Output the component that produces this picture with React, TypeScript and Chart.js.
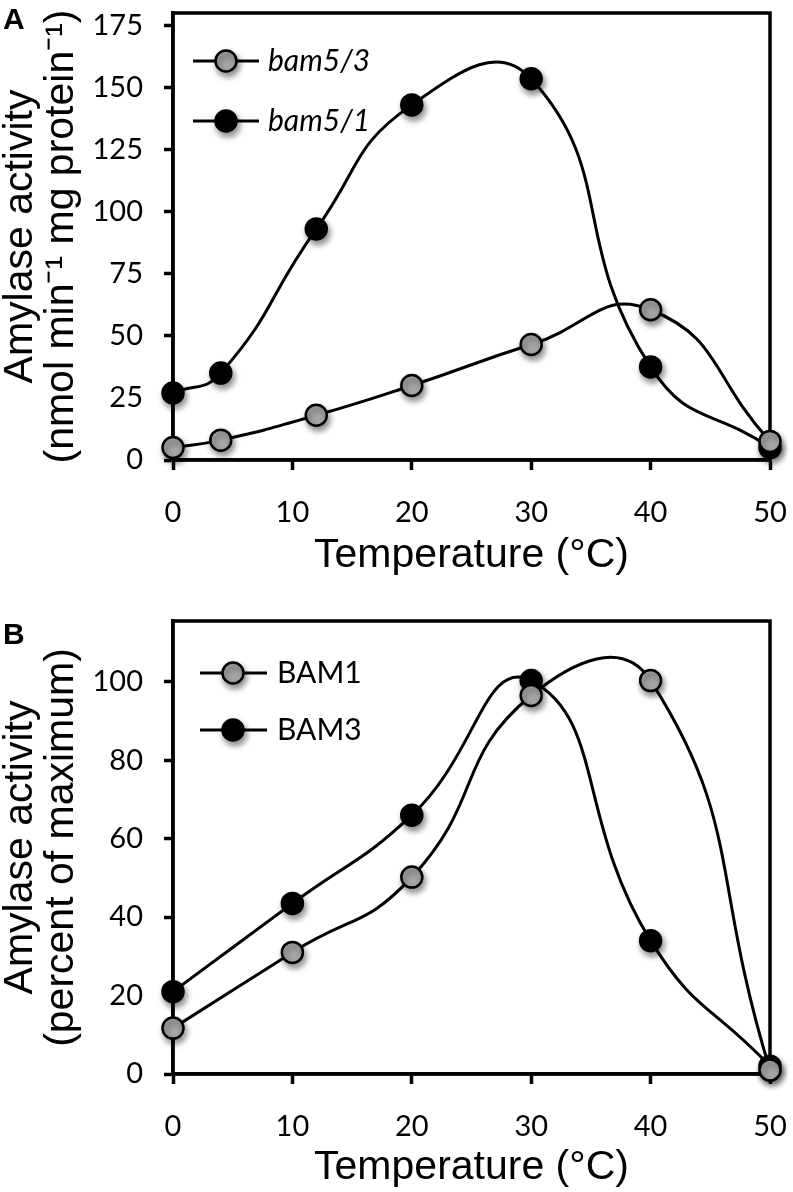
import React, { useEffect, useRef } from 'react';
import { Chart, registerables } from 'chart.js';
Chart.register(...registerables);

// ---------- data ----------
const tempA = [0, 4, 12, 20, 30, 40, 50];
const bam53 = [5, 8, 18, 30, 46.5, 60.5, 7.5];
const bam51 = [27, 35, 93, 143, 153.5, 37.5, 5];
const seriesNamesA = ['bam5/3', 'bam5/1'];

const tempB = [0, 10, 20, 30, 40, 50];
const bam1 = [11.7, 31, 50.2, 96.5, 100.3, 1];
const bam3 = [21, 43.5, 66, 100.3, 34, 2];
const seriesNamesB = ['BAM1', 'BAM3'];

const xTicks = [0, 10, 20, 30, 40, 50];
const yTicksA = [0, 25, 50, 75, 100, 125, 150, 175];
const yTicksB = [0, 20, 40, 60, 80, 100];

const GRAY = '#a6a6a6';
const TICK_FONT = 'Lato';
const TITLE_FONT = 'Liberation Sans';

const shadowPlugin = {
  id: 'markerShadow',
  beforeDatasetDraw(chart: any, args: any) {
    const ds = chart.data.datasets[args.index];
    chart.ctx.save();
    if (ds.shadow) {
      chart.ctx.shadowColor = 'rgba(0,0,0,0.45)';
      chart.ctx.shadowBlur = 6;
      chart.ctx.shadowOffsetX = 2;
      chart.ctx.shadowOffsetY = 4;
    }
  },
  afterDatasetDraw(chart: any) {
    chart.ctx.restore();
  },
};

const framePlugin = {
  id: 'frame',
  beforeDatasetsDraw(chart: any) {
    const { ctx, chartArea: ca } = chart;
    ctx.save();
    ctx.strokeStyle = '#000';
    ctx.lineWidth = 3.5;
    ctx.strokeRect(ca.left, ca.top, ca.right - ca.left, ca.bottom - ca.top);
    ctx.restore();
  },
};

const insetLegend = {
  id: 'insetLegend',
  afterDatasetsDraw(chart: any, _args: any, opts: any) {
    const { ctx, chartArea: ca } = chart;
    opts.items.forEach((it: any, i: number) => {
      const y = ca.top + opts.y0 + i * opts.dy;
      ctx.save();
      ctx.strokeStyle = '#000';
      ctx.lineWidth = 3;
      ctx.beginPath();
      ctx.moveTo(ca.left + opts.x0, y);
      ctx.lineTo(ca.left + opts.x1, y);
      ctx.stroke();
      ctx.shadowColor = 'rgba(0,0,0,0.45)';
      ctx.shadowBlur = 6;
      ctx.shadowOffsetX = 2;
      ctx.shadowOffsetY = 4;
      ctx.beginPath();
      ctx.arc(ca.left + opts.xm, y, 10.5, 0, Math.PI * 2);
      ctx.fillStyle = it.fill;
      ctx.fill();
      ctx.lineWidth = 2.5;
      ctx.stroke();
      ctx.restore();
      ctx.save();
      ctx.fillStyle = '#000';
      ctx.font = `${opts.italic ? 'italic ' : ''}30px ${TICK_FONT}`;
      ctx.textBaseline = 'middle';
      ctx.textAlign = 'left';
      ctx.fillText(it.label, ca.left + opts.xt, y);
      ctx.restore();
    });
  },
};

const panelLetter = {
  id: 'panelLetter',
  afterDraw(chart: any, _args: any, opts: any) {
    const ctx = chart.ctx;
    ctx.save();
    ctx.fillStyle = '#000';
    ctx.font = `bold 30px ${TITLE_FONT}`;
    ctx.textBaseline = 'alphabetic';
    ctx.fillText(opts.text, opts.x, opts.y);
    ctx.restore();
  },
};

function lineDs(xs: number[], ys: number[], label: string) {
  return {
    label,
    data: xs.map((x, i) => ({ x, y: ys[i] })),
    borderColor: '#000',
    borderWidth: 3,
    pointRadius: 0,
    tension: 0.5,
    showLine: true,
    fill: false,
    clip: false,
  };
}

function pointDs(xs: number[], ys: number[], label: string, fill: string) {
  return {
    label,
    data: xs.map((x, i) => ({ x, y: ys[i] })),
    showLine: false,
    pointRadius: 10.5,
    pointBorderWidth: 2.5,
    pointBackgroundColor: fill,
    pointBorderColor: '#000',
    shadow: true,
    clip: false,
  };
}

function makeConfig(p: any) {
  const tickFont = { family: TICK_FONT, size: 29 };
  return {
    type: 'line',
    data: {
      datasets: [
        pointDs(p.xs, p.grayY, p.names[0], GRAY),
        pointDs(p.xs, p.blackY, p.names[1], '#000'),
        lineDs(p.xs, p.grayY, p.names[0]),
        lineDs(p.xs, p.blackY, p.names[1]),
      ],
    },
    options: {
      animation: false,
      responsive: false,
      devicePixelRatio: 1,
      layout: { padding: { top: p.padTop, right: 23, left: 0, bottom: 0 } },
      plugins: {
        legend: { display: false },
        tooltip: { enabled: false },
        insetLegend: {
          items: [
            { label: p.names[0], fill: GRAY },
            { label: p.names[1], fill: '#000' },
          ],
          ...p.legend,
        },
        panelLetter: p.letter,
      },
      scales: {
        x: {
          type: 'linear',
          min: 0,
          max: 50,
          afterBuildTicks: (ax: any) => {
            ax.ticks = xTicks.map((v) => ({ value: v }));
          },
          afterFit: (ax: any) => {
            ax.height = p.xHeight;
            ax.paddingLeft = 0;
            ax.paddingRight = 0;
          },
          grid: {
            display: true,
            drawOnChartArea: false,
            drawTicks: true,
            tickLength: 10,
            tickWidth: 3.5,
            tickColor: '#000',
          },
          border: { display: true, width: 3.5, color: '#000' },
          ticks: { font: tickFont, color: '#000', padding: 25, maxRotation: 0 },
          title: {
            display: true,
            text: 'Temperature (°C)',
            color: '#000',
            font: { family: TITLE_FONT, size: 41, lineHeight: 1.1 },
            padding: { top: 0, bottom: p.xTitlePad },
          },
        },
        y: {
          type: 'linear',
          min: 0,
          max: p.yMax,
          afterBuildTicks: (ax: any) => {
            ax.ticks = p.yTicks.map((v: number) => ({ value: v }));
          },
          afterFit: (ax: any) => {
            ax.width = 173;
            ax.paddingTop = 0;
            ax.paddingBottom = 0;
          },
          grid: {
            display: true,
            drawOnChartArea: false,
            drawTicks: true,
            tickLength: 9,
            tickWidth: 3.5,
            tickColor: '#000',
          },
          border: { display: true, width: 3.5, color: '#000' },
          ticks: { font: tickFont, color: '#000', padding: 21 },
          title: {
            display: true,
            text: p.yTitle,
            color: '#000',
            font: { family: TITLE_FONT, size: 41, lineHeight: 1.0 },
            padding: { top: 0, bottom: 0 },
          },
        },
      },
    },
    plugins: [shadowPlugin, framePlugin, insetLegend, panelLetter],
  };
}

function Panel({ p, height }: { p: any; height: number }) {
  const ref = useRef<HTMLCanvasElement>(null);
  useEffect(() => {
    if (!ref.current) return;
    const chart = new Chart(ref.current, makeConfig(p) as any);
    return () => chart.destroy();
  }, []);
  return <canvas ref={ref} width={793} height={height} style={{ display: 'block', width: 793, height }} />;
}

const panelA = {
  xs: tempA,
  grayY: bam53,
  blackY: bam51,
  names: seriesNamesA,
  yTicks: yTicksA,
  yMax: 180,
  padTop: 5,
  xHeight: 140,
  xTitlePad: 22,
  yTitle: ['Amylase activity', '(nmol min⁻¹ mg protein⁻¹)'],
  legend: { x0: 20, x1: 86, xm: 53, xt: 95, y0: 48, dy: 60, italic: true },
  letter: { text: 'A', x: 3, y: 29 },
};

const panelB = {
  xs: tempB,
  grayY: bam1,
  blackY: bam3,
  names: seriesNamesB,
  yTicks: yTicksB,
  yMax: 115.5,
  padTop: 21,
  xHeight: 118,
  xTitlePad: 2,
  yTitle: ['Amylase activity', '(percent of maximum)'],
  legend: { x0: 27, x1: 94, xm: 60, xt: 104, y0: 52, dy: 57, italic: false },
  letter: { text: 'B', x: 3, y: 44 },
};

export default function App() {
  useEffect(() => {
    document.body.style.margin = '0';
  }, []);
  return (
    <div style={{ width: 793, height: 1192, background: '#fff' }}>
      <Panel p={panelA} height={600} />
      <Panel p={panelB} height={592} />
    </div>
  );
}
